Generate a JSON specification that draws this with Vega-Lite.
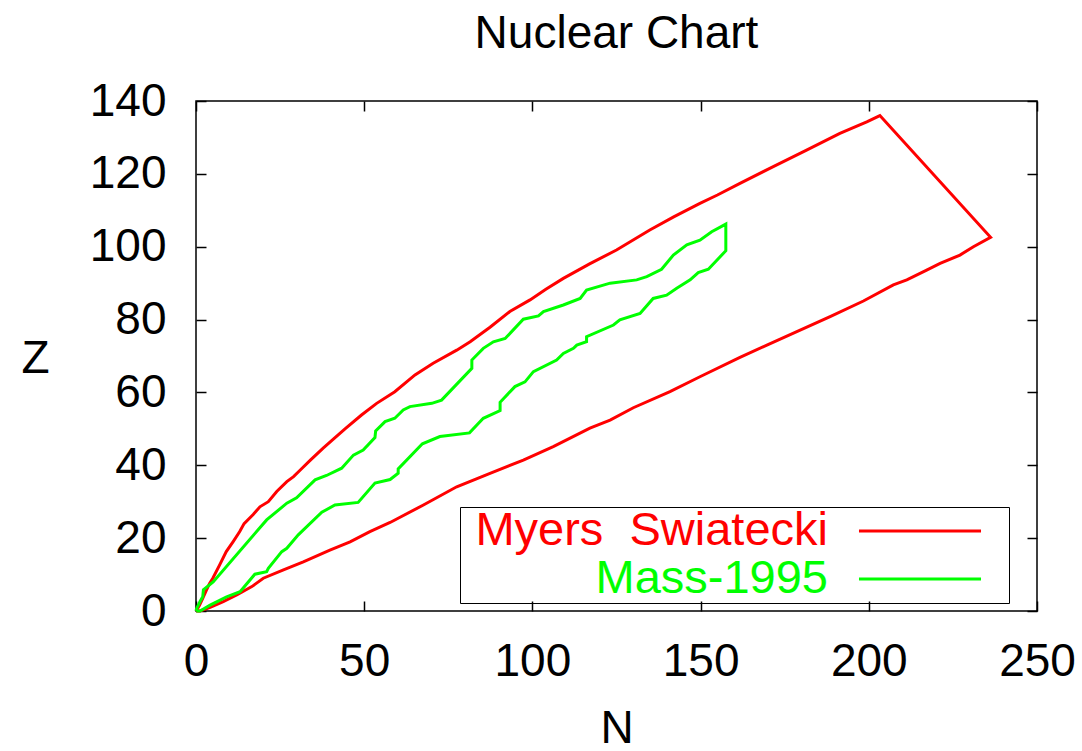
{
  "$schema": "https://vega.github.io/schema/vega-lite/v6.json",
  "width": 841,
  "height": 510,
  "autosize": {"type": "none"},
  "padding": {"left": 196, "top": 101, "right": 45, "bottom": 140},
  "background": "white",
  "config": {
    "view": {"stroke": "black", "strokeWidth": 1.5},
    "font": "Liberation Sans",
    "axis": {
      "tickColor": "black",
      "tickWidth": 1.5,
      "tickSize": -10,
      "domain": false,
      "grid": false,
      "labelFont": "Liberation Sans",
      "labelFontSize": 46,
      "labelColor": "black",
      "labelFlush": false,
      "labelOverlap": false,
      "titleFont": "Liberation Sans",
      "titleFontSize": 46,
      "titleFontWeight": "normal",
      "titleColor": "black"
    }
  },
  "title": {
    "text": "Nuclear Chart",
    "fontSize": 46,
    "font": "Liberation Sans",
    "fontWeight": "normal",
    "color": "black",
    "anchor": "middle",
    "frame": "group",
    "offset": 20
  },
  "data": {
    "values": [
      {"series": "Myers  Swiatecki", "i": 0, "N": 0, "Z": 0},
      {"series": "Myers  Swiatecki", "i": 1, "N": 1, "Z": 1.5},
      {"series": "Myers  Swiatecki", "i": 2, "N": 2, "Z": 3.5},
      {"series": "Myers  Swiatecki", "i": 3, "N": 3, "Z": 5.5},
      {"series": "Myers  Swiatecki", "i": 4, "N": 4, "Z": 7.5},
      {"series": "Myers  Swiatecki", "i": 5, "N": 5, "Z": 9},
      {"series": "Myers  Swiatecki", "i": 6, "N": 7, "Z": 12.6},
      {"series": "Myers  Swiatecki", "i": 7, "N": 9, "Z": 16.3},
      {"series": "Myers  Swiatecki", "i": 8, "N": 11, "Z": 19},
      {"series": "Myers  Swiatecki", "i": 9, "N": 13, "Z": 21.8},
      {"series": "Myers  Swiatecki", "i": 10, "N": 14.3, "Z": 24},
      {"series": "Myers  Swiatecki", "i": 11, "N": 17, "Z": 26.5},
      {"series": "Myers  Swiatecki", "i": 12, "N": 19, "Z": 28.6},
      {"series": "Myers  Swiatecki", "i": 13, "N": 21.5, "Z": 30},
      {"series": "Myers  Swiatecki", "i": 14, "N": 24, "Z": 32.8},
      {"series": "Myers  Swiatecki", "i": 15, "N": 27, "Z": 35.5},
      {"series": "Myers  Swiatecki", "i": 16, "N": 29, "Z": 36.9},
      {"series": "Myers  Swiatecki", "i": 17, "N": 31, "Z": 38.7},
      {"series": "Myers  Swiatecki", "i": 18, "N": 34, "Z": 41.4},
      {"series": "Myers  Swiatecki", "i": 19, "N": 37.8, "Z": 44.7},
      {"series": "Myers  Swiatecki", "i": 20, "N": 41, "Z": 47.3},
      {"series": "Myers  Swiatecki", "i": 21, "N": 44.3, "Z": 50},
      {"series": "Myers  Swiatecki", "i": 22, "N": 49.2, "Z": 53.8},
      {"series": "Myers  Swiatecki", "i": 23, "N": 53.7, "Z": 57},
      {"series": "Myers  Swiatecki", "i": 24, "N": 59.1, "Z": 60.2},
      {"series": "Myers  Swiatecki", "i": 25, "N": 65.1, "Z": 64.8},
      {"series": "Myers  Swiatecki", "i": 26, "N": 70.5, "Z": 68},
      {"series": "Myers  Swiatecki", "i": 27, "N": 77.5, "Z": 71.6},
      {"series": "Myers  Swiatecki", "i": 28, "N": 81.5, "Z": 73.9},
      {"series": "Myers  Swiatecki", "i": 29, "N": 87.4, "Z": 77.9},
      {"series": "Myers  Swiatecki", "i": 30, "N": 93.3, "Z": 82.2},
      {"series": "Myers  Swiatecki", "i": 31, "N": 99.3, "Z": 85.4},
      {"series": "Myers  Swiatecki", "i": 32, "N": 104, "Z": 88.3},
      {"series": "Myers  Swiatecki", "i": 33, "N": 109.2, "Z": 91.3},
      {"series": "Myers  Swiatecki", "i": 34, "N": 117, "Z": 95.3},
      {"series": "Myers  Swiatecki", "i": 35, "N": 125, "Z": 99.1},
      {"series": "Myers  Swiatecki", "i": 36, "N": 134.9, "Z": 104.6},
      {"series": "Myers  Swiatecki", "i": 37, "N": 142, "Z": 108.2},
      {"series": "Myers  Swiatecki", "i": 38, "N": 149.8, "Z": 111.9},
      {"series": "Myers  Swiatecki", "i": 39, "N": 155, "Z": 114.2},
      {"series": "Myers  Swiatecki", "i": 40, "N": 161.7, "Z": 117.4},
      {"series": "Myers  Swiatecki", "i": 41, "N": 171.6, "Z": 122},
      {"series": "Myers  Swiatecki", "i": 42, "N": 181.5, "Z": 126.5},
      {"series": "Myers  Swiatecki", "i": 43, "N": 191.4, "Z": 131.1},
      {"series": "Myers  Swiatecki", "i": 44, "N": 199.4, "Z": 134.3},
      {"series": "Myers  Swiatecki", "i": 45, "N": 203.3, "Z": 136},
      {"series": "Myers  Swiatecki", "i": 46, "N": 236.2, "Z": 102.6},
      {"series": "Myers  Swiatecki", "i": 47, "N": 231.1, "Z": 100},
      {"series": "Myers  Swiatecki", "i": 48, "N": 227.1, "Z": 97.7},
      {"series": "Myers  Swiatecki", "i": 49, "N": 221.2, "Z": 95.4},
      {"series": "Myers  Swiatecki", "i": 50, "N": 217.2, "Z": 93.6},
      {"series": "Myers  Swiatecki", "i": 51, "N": 211.3, "Z": 90.9},
      {"series": "Myers  Swiatecki", "i": 52, "N": 207.3, "Z": 89.5},
      {"series": "Myers  Swiatecki", "i": 53, "N": 198.4, "Z": 85.1},
      {"series": "Myers  Swiatecki", "i": 54, "N": 188.5, "Z": 80.8},
      {"series": "Myers  Swiatecki", "i": 55, "N": 178.6, "Z": 76.7},
      {"series": "Myers  Swiatecki", "i": 56, "N": 169.7, "Z": 73},
      {"series": "Myers  Swiatecki", "i": 57, "N": 161.7, "Z": 69.6},
      {"series": "Myers  Swiatecki", "i": 58, "N": 149.8, "Z": 64.3},
      {"series": "Myers  Swiatecki", "i": 59, "N": 140.9, "Z": 60.2},
      {"series": "Myers  Swiatecki", "i": 60, "N": 130, "Z": 55.8},
      {"series": "Myers  Swiatecki", "i": 61, "N": 123.1, "Z": 52.4},
      {"series": "Myers  Swiatecki", "i": 62, "N": 117.1, "Z": 50.2},
      {"series": "Myers  Swiatecki", "i": 63, "N": 106.2, "Z": 45.1},
      {"series": "Myers  Swiatecki", "i": 64, "N": 97.3, "Z": 41.4},
      {"series": "Myers  Swiatecki", "i": 65, "N": 87.4, "Z": 37.8},
      {"series": "Myers  Swiatecki", "i": 66, "N": 77.5, "Z": 34.1},
      {"series": "Myers  Swiatecki", "i": 67, "N": 67.6, "Z": 29.1},
      {"series": "Myers  Swiatecki", "i": 68, "N": 57.7, "Z": 24.3},
      {"series": "Myers  Swiatecki", "i": 69, "N": 51.7, "Z": 21.8},
      {"series": "Myers  Swiatecki", "i": 70, "N": 45.8, "Z": 19},
      {"series": "Myers  Swiatecki", "i": 71, "N": 39.8, "Z": 16.7},
      {"series": "Myers  Swiatecki", "i": 72, "N": 31.9, "Z": 13.5},
      {"series": "Myers  Swiatecki", "i": 73, "N": 26, "Z": 11.3},
      {"series": "Myers  Swiatecki", "i": 74, "N": 20, "Z": 9},
      {"series": "Myers  Swiatecki", "i": 75, "N": 16.6, "Z": 6.7},
      {"series": "Myers  Swiatecki", "i": 76, "N": 12.1, "Z": 4.4},
      {"series": "Myers  Swiatecki", "i": 77, "N": 8.1, "Z": 2.6},
      {"series": "Myers  Swiatecki", "i": 78, "N": 4.2, "Z": 1},
      {"series": "Myers  Swiatecki", "i": 79, "N": 1.2, "Z": 0},
      {"series": "Myers  Swiatecki", "i": 80, "N": 0, "Z": 0},
      {"series": "Mass-1995", "i": 0, "N": 0, "Z": 0},
      {"series": "Mass-1995", "i": 1, "N": 0.2, "Z": 0.7},
      {"series": "Mass-1995", "i": 2, "N": 1.2, "Z": 2.6},
      {"series": "Mass-1995", "i": 3, "N": 2, "Z": 3.9},
      {"series": "Mass-1995", "i": 4, "N": 2.2, "Z": 5.8},
      {"series": "Mass-1995", "i": 5, "N": 5.1, "Z": 8},
      {"series": "Mass-1995", "i": 6, "N": 21, "Z": 25},
      {"series": "Mass-1995", "i": 7, "N": 27, "Z": 29.6},
      {"series": "Mass-1995", "i": 8, "N": 29.9, "Z": 31.1},
      {"series": "Mass-1995", "i": 9, "N": 35.4, "Z": 36},
      {"series": "Mass-1995", "i": 10, "N": 38.8, "Z": 37.2},
      {"series": "Mass-1995", "i": 11, "N": 43.3, "Z": 39.2},
      {"series": "Mass-1995", "i": 12, "N": 46.8, "Z": 42.8},
      {"series": "Mass-1995", "i": 13, "N": 49.7, "Z": 44.2},
      {"series": "Mass-1995", "i": 14, "N": 53.2, "Z": 47.6},
      {"series": "Mass-1995", "i": 15, "N": 53.4, "Z": 49.4},
      {"series": "Mass-1995", "i": 16, "N": 56.2, "Z": 52},
      {"series": "Mass-1995", "i": 17, "N": 59.1, "Z": 52.9},
      {"series": "Mass-1995", "i": 18, "N": 61.6, "Z": 55.2},
      {"series": "Mass-1995", "i": 19, "N": 63.6, "Z": 56.1},
      {"series": "Mass-1995", "i": 20, "N": 70.1, "Z": 57},
      {"series": "Mass-1995", "i": 21, "N": 73, "Z": 57.9},
      {"series": "Mass-1995", "i": 22, "N": 82, "Z": 66.6},
      {"series": "Mass-1995", "i": 23, "N": 82, "Z": 68.9},
      {"series": "Mass-1995", "i": 24, "N": 85.4, "Z": 72.1},
      {"series": "Mass-1995", "i": 25, "N": 88.4, "Z": 73.9},
      {"series": "Mass-1995", "i": 26, "N": 91.9, "Z": 74.8},
      {"series": "Mass-1995", "i": 27, "N": 97.3, "Z": 80.1},
      {"series": "Mass-1995", "i": 28, "N": 101.8, "Z": 81},
      {"series": "Mass-1995", "i": 29, "N": 103.3, "Z": 82.2},
      {"series": "Mass-1995", "i": 30, "N": 109.2, "Z": 84},
      {"series": "Mass-1995", "i": 31, "N": 114.2, "Z": 85.8},
      {"series": "Mass-1995", "i": 32, "N": 116.1, "Z": 88.1},
      {"series": "Mass-1995", "i": 33, "N": 123.1, "Z": 90},
      {"series": "Mass-1995", "i": 34, "N": 131, "Z": 90.9},
      {"series": "Mass-1995", "i": 35, "N": 134, "Z": 91.8},
      {"series": "Mass-1995", "i": 36, "N": 138.4, "Z": 93.8},
      {"series": "Mass-1995", "i": 37, "N": 141.9, "Z": 97.7},
      {"series": "Mass-1995", "i": 38, "N": 145.9, "Z": 100.5},
      {"series": "Mass-1995", "i": 39, "N": 149.8, "Z": 101.8},
      {"series": "Mass-1995", "i": 40, "N": 153.3, "Z": 104.1},
      {"series": "Mass-1995", "i": 41, "N": 157.5, "Z": 106.2},
      {"series": "Mass-1995", "i": 42, "N": 157.5, "Z": 98.9},
      {"series": "Mass-1995", "i": 43, "N": 152.3, "Z": 93.8},
      {"series": "Mass-1995", "i": 44, "N": 149.3, "Z": 92.9},
      {"series": "Mass-1995", "i": 45, "N": 146.9, "Z": 90.9},
      {"series": "Mass-1995", "i": 46, "N": 142.9, "Z": 88.6},
      {"series": "Mass-1995", "i": 47, "N": 139.9, "Z": 86.7},
      {"series": "Mass-1995", "i": 48, "N": 135.9, "Z": 85.8},
      {"series": "Mass-1995", "i": 49, "N": 132, "Z": 81.7},
      {"series": "Mass-1995", "i": 50, "N": 126, "Z": 79.9},
      {"series": "Mass-1995", "i": 51, "N": 124.1, "Z": 78.5},
      {"series": "Mass-1995", "i": 52, "N": 116.1, "Z": 75.3},
      {"series": "Mass-1995", "i": 53, "N": 116.1, "Z": 73.9},
      {"series": "Mass-1995", "i": 54, "N": 113.2, "Z": 73},
      {"series": "Mass-1995", "i": 55, "N": 112.2, "Z": 72.1},
      {"series": "Mass-1995", "i": 56, "N": 109.2, "Z": 70.7},
      {"series": "Mass-1995", "i": 57, "N": 107.2, "Z": 68.9},
      {"series": "Mass-1995", "i": 58, "N": 100.3, "Z": 65.7},
      {"series": "Mass-1995", "i": 59, "N": 97.8, "Z": 62.9},
      {"series": "Mass-1995", "i": 60, "N": 94.8, "Z": 61.6},
      {"series": "Mass-1995", "i": 61, "N": 90.4, "Z": 57.3},
      {"series": "Mass-1995", "i": 62, "N": 90.4, "Z": 55},
      {"series": "Mass-1995", "i": 63, "N": 85.4, "Z": 52.9},
      {"series": "Mass-1995", "i": 64, "N": 81.3, "Z": 48.9},
      {"series": "Mass-1995", "i": 65, "N": 72.5, "Z": 47.9},
      {"series": "Mass-1995", "i": 66, "N": 67.3, "Z": 45.9},
      {"series": "Mass-1995", "i": 67, "N": 60.1, "Z": 39},
      {"series": "Mass-1995", "i": 68, "N": 60.1, "Z": 37.8},
      {"series": "Mass-1995", "i": 69, "N": 57.7, "Z": 36.1},
      {"series": "Mass-1995", "i": 70, "N": 53.2, "Z": 35.1},
      {"series": "Mass-1995", "i": 71, "N": 48.2, "Z": 29.8},
      {"series": "Mass-1995", "i": 72, "N": 41.3, "Z": 29.1},
      {"series": "Mass-1995", "i": 73, "N": 37.4, "Z": 27.1},
      {"series": "Mass-1995", "i": 74, "N": 30.4, "Z": 20.9},
      {"series": "Mass-1995", "i": 75, "N": 27, "Z": 17.2},
      {"series": "Mass-1995", "i": 76, "N": 25.5, "Z": 16.3},
      {"series": "Mass-1995", "i": 77, "N": 21.5, "Z": 11.7},
      {"series": "Mass-1995", "i": 78, "N": 21, "Z": 10.8},
      {"series": "Mass-1995", "i": 79, "N": 17.5, "Z": 10.1},
      {"series": "Mass-1995", "i": 80, "N": 13.1, "Z": 5.3},
      {"series": "Mass-1995", "i": 81, "N": 9.1, "Z": 3.9},
      {"series": "Mass-1995", "i": 82, "N": 4.2, "Z": 1.6},
      {"series": "Mass-1995", "i": 83, "N": 1.2, "Z": 0},
      {"series": "Mass-1995", "i": 84, "N": 0, "Z": 0}
    ]
  },
  "encoding": {
    "color": {
      "field": "series",
      "type": "nominal",
      "scale": {"domain": ["Myers  Swiatecki", "Mass-1995"], "range": ["#ff0000", "#00ff00"]},
      "legend": {
        "orient": "none",
        "legendX": 264,
        "legendY": 406,
        "title": null,
        "direction": "vertical",
        "padding": 1,
        "rowPadding": 1,
        "strokeColor": "black",
        "labelFont": "Liberation Sans",
        "labelFontSize": 47,
        "labelLimit": 0,
        "labelExpr": "replace(datum.label, '  ', '\u00a0 ')",
        "symbolType": "M-1,0M0.4713,0L0.9224,0M1,0",
        "symbolSize": 292681,
        "symbolStrokeWidth": 3,
        "symbolFillColor": "transparent",
        "encode": {
          "symbols": {"update": {"x": {"value": 270.5}, "y": {"value": 23}}},
          "labels": {"update": {"x": {"value": 367}, "y": {"value": 23}, "align": {"value": "right"}, "fill": {"signal": "datum.value === 'Mass-1995' ? '#00ff00' : '#ff0000'"}}}
        }
      }
    },
    "order": {"field": "i", "type": "quantitative"}
  },
  "layer": [
    {
      "transform": [{"filter": "datum.series === 'Myers  Swiatecki'"}],
      "mark": {"type": "line", "strokeWidth": 3},
      "encoding": {
        "x": {
          "field": "N", "type": "quantitative",
          "scale": {"domain": [0, 250], "nice": false, "zero": false},
          "axis": {
            "orient": "bottom",
            "values": [0, 50, 100, 150, 200, 250],
            "labelPadding": 38,
            "title": "N",
            "titleX": 420.5,
            "titleY": 131,
            "titleAlign": "center",
            "titleBaseline": "alphabetic"
          }
        },
        "y": {
          "field": "Z", "type": "quantitative",
          "scale": {"domain": [0, 140], "nice": false, "zero": false},
          "axis": {
            "orient": "left",
            "values": [0, 20, 40, 60, 80, 100, 120, 140],
            "labelPadding": 40,
            "title": "Z",
            "titleAngle": 0,
            "titleX": -161,
            "titleY": 271,
            "titleAlign": "center",
            "titleBaseline": "alphabetic"
          }
        }
      }
    },
    {
      "transform": [{"filter": "datum.series === 'Mass-1995'"}],
      "mark": {"type": "line", "strokeWidth": 3},
      "encoding": {
        "x": {
          "field": "N", "type": "quantitative",
          "scale": {"domain": [0, 250], "nice": false, "zero": false},
          "axis": {
            "orient": "top",
            "values": [0, 50, 100, 150, 200, 250],
            "labels": false,
            "title": null
          }
        },
        "y": {
          "field": "Z", "type": "quantitative",
          "scale": {"domain": [0, 140], "nice": false, "zero": false},
          "axis": {
            "orient": "right",
            "values": [0, 20, 40, 60, 80, 100, 120, 140],
            "labels": false,
            "title": null
          }
        }
      }
    }
  ],
  "resolve": {"axis": {"x": "independent", "y": "independent"}}
}
